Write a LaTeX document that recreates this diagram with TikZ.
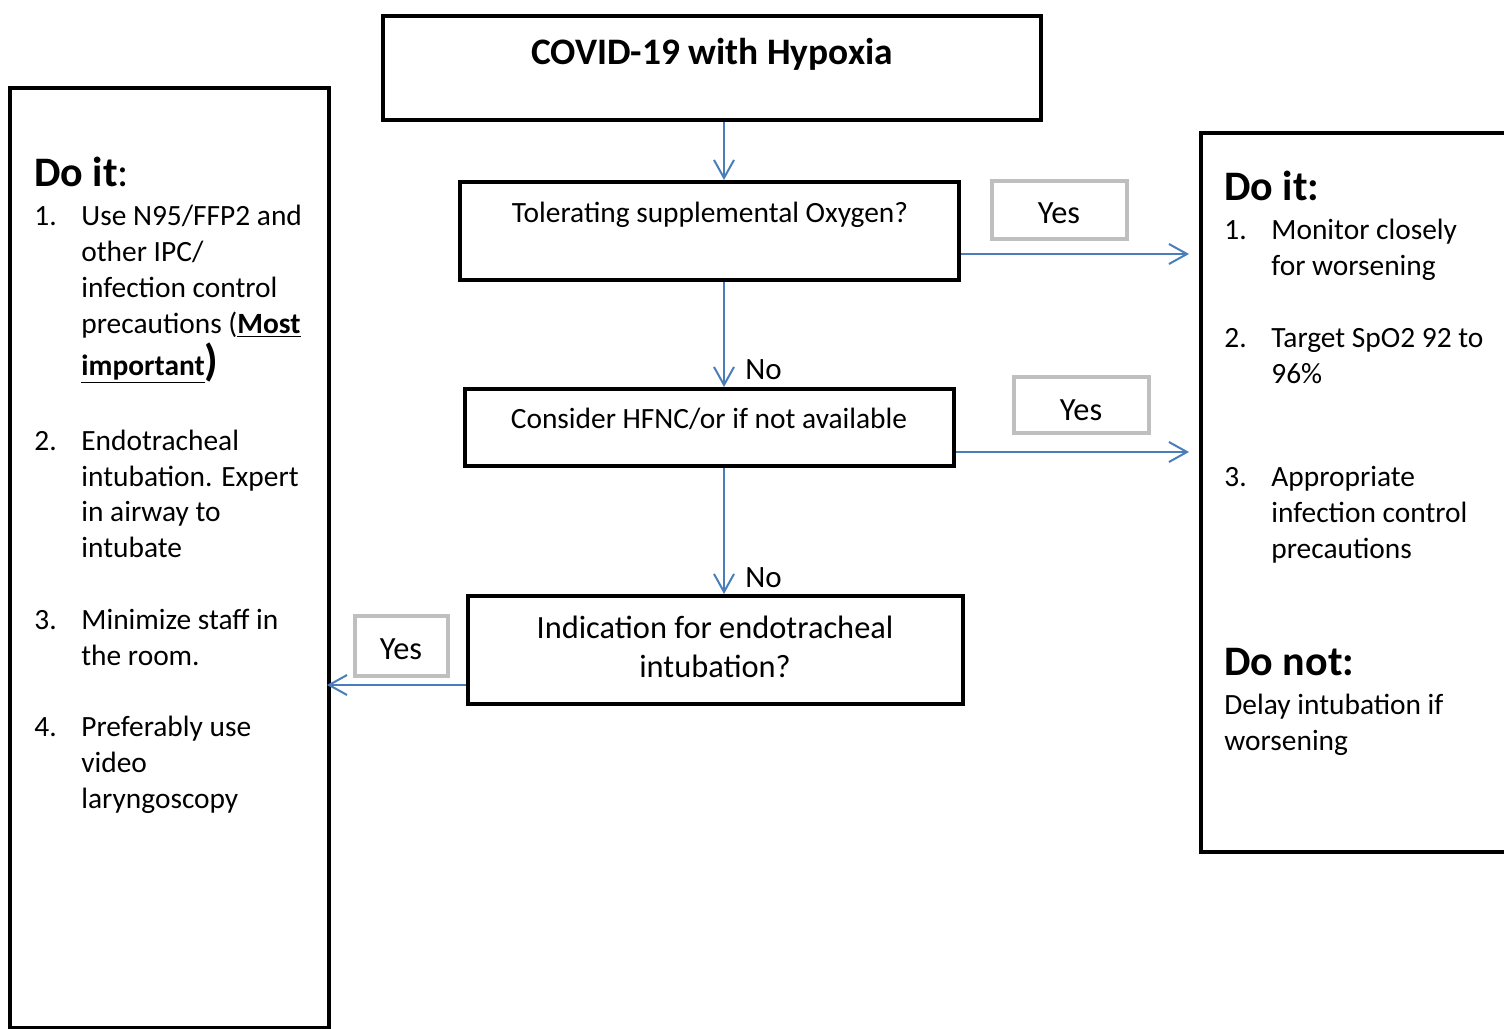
\documentclass[tikz,border=0pt]{standalone}
\usepackage{fontspec}
\setmainfont{Carlito}
\usetikzlibrary{arrows.meta,fit}
\definecolor{arrblue}{RGB}{74,126,187}
\definecolor{yesgray}{RGB}{191,191,191}
\newcommand{\bodyfont}{\fontsize{14.7}{18}\selectfont}
\newcommand{\bigbodyfont}{\fontsize{16.2}{20}\selectfont}
\newcommand{\headfont}{\fontsize{21}{25}\selectfont}
\begin{document}
\begin{tikzpicture}[x=0.5pt,y=-0.5pt,
  box/.style={draw=black,line width=2pt,inner sep=0pt},
  yesbox/.style={draw=yesgray,line width=2pt,inner sep=0pt},
  arr/.style={draw=arrblue,line width=1pt,-{Straight Barb[length=9pt,width=10pt]}},
  txt/.style={inner sep=0pt,anchor=base west,font=\bodyfont},
  ctxt/.style={inner sep=0pt,anchor=base,font=\bodyfont},
  bctxt/.style={inner sep=0pt,anchor=base,font=\bigbodyfont},
  head/.style={inner sep=0pt,anchor=base west,font=\headfont}]
\useasboundingbox (0,0) rectangle (1504,1028);
\fill[white] (0,0) rectangle (1504,1028);
\clip (0,0) rectangle (1504,1028);

% boxes
\node[box,fit={(383,16)(1041,120)}] (b1) {};
\node[box,fit={(460,182)(959,280)}] (b2) {};
\node[box,fit={(465,389)(954,466)}] (b3) {};
\node[box,fit={(468,596)(963,704)}] (b4) {};
\node[box,fit={(10,88)(329,1028)}] (lb) {};
\node[box,fit={(1201,133)(1530,852)}] (rb) {};
\node[yesbox,fit={(992,181)(1127,239)}] (y1) {};
\node[yesbox,fit={(1014,377)(1149,433)}] (y2) {};
\node[yesbox,fit={(355,616)(448,676)}] (y3) {};

% box texts
\node[inner sep=0pt,anchor=base,font=\fontsize{18.7}{22}\selectfont\bfseries] (t1) at (712,64) {COVID-19 with Hypoxia};
\node[ctxt] (t2) at (710,222) {Tolerating supplemental Oxygen?};
\node[ctxt] (t3) at (709,428) {Consider HFNC/or if not available};
\node[bctxt] (t4a) at (715,638) {Indication for endotracheal};
\node[bctxt] (t4b) at (715,677) {intubation?};
\node[bctxt] (ty1) at (1059,223) {Yes};
\node[bctxt] (ty2) at (1081,420) {Yes};
\node[bctxt] (ty3) at (401,659) {Yes};
\node[txt,font=\fontsize{15.5}{18}\selectfont] (no1) at (745,379) {No};
\node[txt,font=\fontsize{15.5}{18}\selectfont] (no2) at (745,587) {No};

% connectors
\coordinate (vx) at (724,0);
\coordinate (h1) at (0,254);
\coordinate (h2) at (0,452);
\coordinate (h3) at (0,685);
\draw[arr] (b1.south -| vx) -- (b2.north -| vx);
\draw[arr] (b2.south -| vx) -- (b3.north -| vx);
\draw[arr] (b3.south -| vx) -- (b4.north -| vx);
\draw[arr,shorten >=5pt] (b2.east |- h1) -- (rb.west |- h1);
\draw[arr,shorten >=5pt] (b3.east |- h2) -- (rb.west |- h2);
\draw[arr,shorten >=-2pt] (b4.west |- h3) -- (lb.east |- h3);

% left box text
\node[head] (lh) at (34,186) {\textbf{Do it}:};
\node[txt] (l1n) at (34,225) {1.};
\node[txt] (l1a) at (81,225) {Use N95/FFP2 and};
\node[txt] (l1b) at (81,261) {other IPC/};
\node[txt] (l1c) at (81,297) {infection control};
\node[txt] (l1d) at (81,333) {precautions (\textbf{\underline{Most}}};
\node[txt] (l1e) at (81,375) {\textbf{\underline{important}}{\fontsize{22}{22}\selectfont\bfseries )}};
\node[txt] (l2n) at (34,450) {2.};
\node[txt] (l2a) at (81,450) {Endotracheal};
\node[txt] (l2b) at (81,486) {intubation. Expert};
\node[txt] (l2c) at (81,521) {in airway to};
\node[txt] (l2d) at (81,557) {intubate};
\node[txt] (l3n) at (34,629) {3.};
\node[txt] (l3a) at (81,629) {Minimize staff in};
\node[txt] (l3b) at (81,665) {the room.};
\node[txt] (l4n) at (34,736) {4.};
\node[txt] (l4a) at (81,736) {Preferably use};
\node[txt] (l4b) at (81,772) {video};
\node[txt] (l4c) at (81,808) {laryngoscopy};

% right box text
\node[head] (rh) at (1224,200) {\textbf{Do it:}};
\node[txt] (r1n) at (1224,239) {1.};
\node[txt] (r1a) at (1271,239) {Monitor closely};
\node[txt] (r1b) at (1271,275) {for worsening};
\node[txt] (r2n) at (1224,347) {2.};
\node[txt] (r2a) at (1271,347) {Target SpO2 92 to};
\node[txt] (r2b) at (1271,383) {96\%};
\node[txt] (r3n) at (1224,486) {3.};
\node[txt] (r3a) at (1271,486) {Appropriate};
\node[txt] (r3b) at (1271,522) {infection control};
\node[txt] (r3c) at (1271,558) {precautions};
\node[head] (rn) at (1224,675) {\textbf{Do not:}};
\node[txt] (r4a) at (1224,714) {Delay intubation if};
\node[txt] (r4b) at (1224,750) {worsening};
\end{tikzpicture}
\end{document}
